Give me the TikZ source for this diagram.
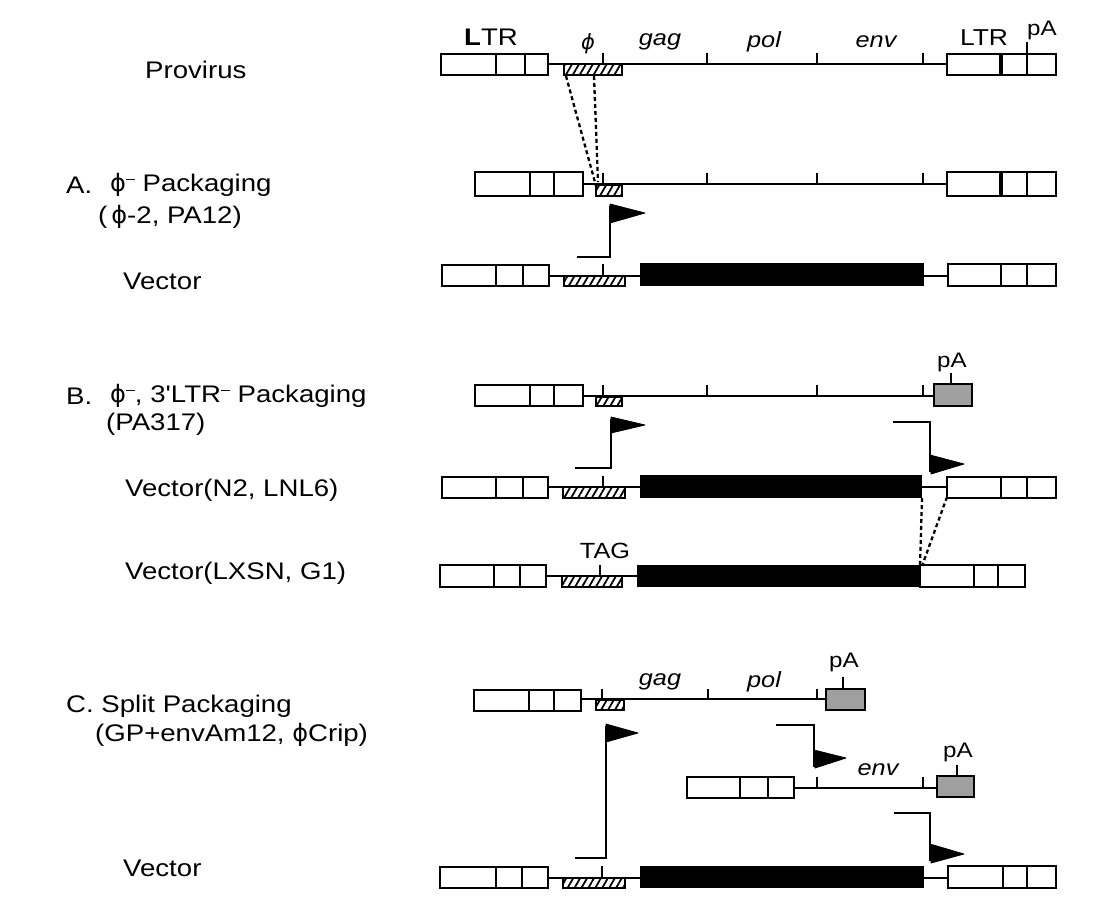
\documentclass[tikz,border=0pt]{standalone}
\usepackage{fontspec}
\newfontfamily\lf{Liberation Sans}[FakeStretch=1.15]
\newfontfamily\dv{DejaVu Sans}
\usetikzlibrary{patterns.meta}
\newcommand\myphi{{\dv ϕ}}
\newcommand\supm{\raisebox{0.65ex}{\fontsize{14}{14}\selectfont –}}
\tikzset{
 boxline/.style={line width=2.6pt},
 dna/.style={line width=2.4pt},
 tickline/.style={line width=2pt},
 lab/.style={font=\lf\fontsize{24}{28}\selectfont, anchor=west, inner sep=0pt},
 gene/.style={font=\lf\itshape\fontsize{22}{25}\selectfont, inner sep=0pt},
 smalllab/.style={font=\lf\fontsize{21}{24}\selectfont, inner sep=0pt},
 hatchfill/.style={pattern={Lines[angle=60,distance=6pt,line width=1.8pt]}},
 pennant/.style={fill=black, draw=black, line width=0.8pt, line join=round},
 flagpole/.style={line width=2.6pt},
 conn/.style={line width=2.3pt, dash pattern=on 4pt off 3pt},
}
\newcommand\ltr[6]{\fill[white] (#1,#2) rectangle (#3,#4); \draw[boxline] (#1,#2) rectangle (#3,#4) (#5,#2)--(#5,#4) (#6,#2)--(#6,#4);}
\newcommand\rltr[6]{\fill[white] (#1,#2) rectangle (#3,#4); \draw[boxline] (#1,#2) rectangle (#3,#4) (#6,#2)--(#6,#4); \draw[line width=3.6pt] (#5,#2)--(#5,#4);}
\newcommand\hatchbox[4]{\fill[white] (#1,#2) rectangle (#3,#4); \fill[hatchfill] (#1,#2) rectangle (#3,#4); \draw[line width=2.2pt] (#1,#2) rectangle (#3,#4);}
\newcommand\graybox[4]{\draw[boxline, fill=gray!75] (#1,#2) rectangle (#3,#4);}
\newcommand\blackbox[4]{\fill[black] (#1,#2) rectangle (#3,#4);}
\newcommand\tk[3]{\draw[tickline] (#1,#2)--(#1,#3);}
\begin{document}
\begin{tikzpicture}[x=1pt,y=-1pt]
\useasboundingbox (0,0) rectangle (1118,911);
\fill[white] (0,0) rectangle (1118,911);

% ---------------- left labels
\node[lab] (tprov) at (145,70) {Provirus};
\node[lab] (tA) at (66,185) {A.};
\node[lab] (tAp) at (110,185) {\myphi\supm\ Packaging};
\node[lab] (tAc) at (98,217) {(\,\myphi-2, PA12)};
\node[lab] (tAv) at (123,281) {Vector};
\node[lab] (tB) at (66,396) {B.};
\node[lab] (tBp) at (110,396) {\myphi\supm, 3'LTR\supm\ Packaging};
\node[lab] (tBc) at (106,424) {(PA317)};
\node[lab] (tBv1) at (125,490) {Vector(N2, LNL6)};
\node[lab] (tBv2) at (125,573) {Vector(LXSN, G1)};
\node[lab] (tC) at (66,706) {C. Split Packaging};
\node[lab] (tCc) at (95,735) {(GP+envAm12, \myphi Crip)};
\node[lab] (tCv) at (123,868) {Vector};

% ---------------- Provirus
\draw[dna] (548,64) -- (947,64);
\ltr{441}{54}{548}{75}{496}{525}
\hatchbox{564}{64}{622}{75}
\tk{603}{64}{53} \tk{707}{64}{53} \tk{817}{64}{53} \tk{923}{64}{53}
\rltr{947}{54}{1056}{75}{1001}{1027}
\tk{1027}{54}{42}
\node[font=\lf\fontsize{24}{27}\selectfont, inner sep=0pt] (lLTR) at (491,37) {\textbf{L}TR};
\node[font=\dv\itshape\fontsize{21}{24}\selectfont, inner sep=0pt] (lphi) at (588,44) {ϕ};
\node[gene] (lgag) at (660,42) {gag};
\node[gene] (lpol) at (764,42) {pol};
\node[gene] (lenv) at (876,42) {env};
\node[font=\lf\fontsize{23}{26}\selectfont, inner sep=0pt] (rLTR) at (984,38) {LTR};
\node[smalllab] (pA0) at (1042,30) {pA};
\coordinate (pd1) at (566,76);
\coordinate (pd2) at (594,76);

% ---------------- A packaging
\draw[dna] (583,184) -- (947,184);
\ltr{475}{172}{583}{196}{530}{554}
\hatchbox{596}{185}{622}{196}
\tk{603}{184}{173} \tk{707}{184}{173} \tk{817}{184}{173} \tk{923}{184}{173}
\rltr{947}{172}{1056}{196}{1001}{1027}
\coordinate (ad1) at (596,186);
\coordinate (ad2) at (598,182);
\draw[conn] (pd1) -- (ad1);
\draw[conn] (pd2) -- (ad2);

% flag A
\draw[flagpole] (577,257) -- (610,257) -- (610,206);
\draw[pennant] (610,204) -- (645,213) -- (610,223) -- cycle;

% ---------------- Vector A
\draw[dna] (549,276) -- (948,276);
\ltr{442}{265}{549}{286}{496}{523}
\hatchbox{564}{276}{625}{286}
\tk{603}{276}{264}
\blackbox{640}{263}{924}{286}
\ltr{948}{264}{1056}{286}{1001}{1027}

% ---------------- B packaging
\draw[dna] (583,396) -- (934,396);
\ltr{475}{385}{583}{406}{530}{554}
\hatchbox{596}{397}{622}{406}
\tk{603}{396}{385} \tk{707}{396}{385} \tk{817}{396}{385} \tk{923}{396}{385}
\graybox{934}{384}{972}{406}
\tk{951}{384}{373}
\node[smalllab] (pAB) at (952,362) {pA};

% flags B
\draw[flagpole] (575,468) -- (611,468) -- (611,419);
\draw[pennant] (611,417) -- (645,425) -- (611,433) -- cycle;
\draw[flagpole] (893,422) -- (930,422) -- (930,472);
\draw[pennant] (930,455) -- (964,464) -- (931,474) -- cycle;

% ---------------- Vector N2
\draw[dna] (548,487) -- (947,487);
\ltr{442}{477}{548}{498}{496}{523}
\hatchbox{563}{487}{625}{498}
\tk{603}{487}{476}
\blackbox{640}{475}{922}{498}
\ltr{947}{477}{1056}{498}{1001}{1027}
\coordinate (nd1) at (922,498);
\coordinate (nd2) at (947,497);

% ---------------- Vector LXSN
\draw[dna] (546,576) -- (637,576);
\ltr{440}{565}{546}{587}{494}{520}
\hatchbox{562}{576}{622}{587}
\tk{600}{576}{565}
\node[smalllab, font=\lf\fontsize{22}{25}\selectfont] (lTAG) at (605,551) {TAG};
\blackbox{637}{565}{920}{587}
\ltr{920}{565}{1025}{587}{974}{998}
\coordinate (xd1) at (920,566);
\coordinate (xd2) at (922,566);
\draw[conn] (nd1) -- (xd1);
\draw[conn] (nd2) -- (xd2);

% ---------------- C packaging gag-pol
\draw[dna] (581,699) -- (826,699);
\ltr{474}{690}{581}{711}{529}{554}
\hatchbox{596}{700}{624}{710}
\tk{602}{699}{689} \tk{708}{699}{689} \tk{817}{699}{689}
\node[gene] (cgag) at (660,682) {gag};
\node[gene] (cpol) at (764,682) {pol};
\graybox{826}{689}{865}{710}
\tk{843}{689}{677}
\node[smalllab] (pAC1) at (844,662) {pA};

% flags C
\draw[flagpole] (575,858) -- (606,858) -- (606,726);
\draw[pennant] (606,724) -- (638,733) -- (606,742) -- cycle;
\draw[flagpole] (776,725) -- (814,725) -- (814,767);
\draw[pennant] (814,750) -- (846,758) -- (815,768) -- cycle;

% ---------------- C env
\draw[dna] (794,788) -- (937,788);
\ltr{687}{777}{794}{798}{740}{768}
\tk{817}{788}{777} \tk{923}{788}{777}
\node[gene] (cenv) at (878,770) {env};
\graybox{937}{776}{974}{797}
\tk{957}{776}{765}
\node[smalllab] (pAC2) at (958,752) {pA};

\draw[flagpole] (894,813) -- (930,813) -- (930,861);
\draw[pennant] (930,844) -- (964,854) -- (931,863) -- cycle;

% ---------------- Vector C
\draw[dna] (548,878) -- (948,878);
\ltr{440}{867}{548}{888}{496}{522}
\hatchbox{563}{878}{625}{888}
\tk{602}{878}{866}
\blackbox{640}{866}{924}{888}
\ltr{948}{866}{1056}{888}{1003}{1027}
\end{tikzpicture}
\end{document}
